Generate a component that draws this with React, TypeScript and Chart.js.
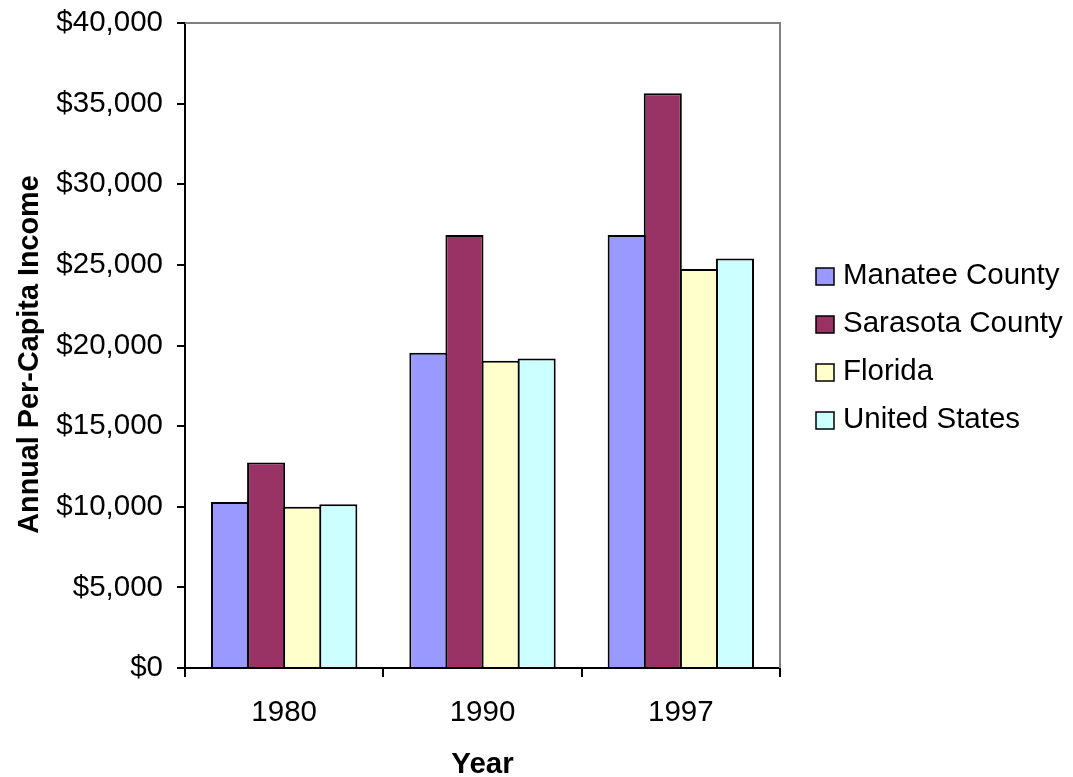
import React, { useEffect, useRef } from 'react';
import { Chart, registerables } from 'chart.js';

Chart.register(...registerables);

const years = ['1980', '1990', '1997'];
const manatee = [10300, 19550, 26850];
const sarasota = [12750, 26850, 35650];
const florida = [10000, 19050, 24750];
const unitedStates = [10150, 19200, 25400];
const seriesNames = ['Manatee County', 'Sarasota County', 'Florida', 'United States'];
const seriesColors = ['#9999FF', '#993366', '#FFFFCC', '#CCFFFF'];
const yMin = 0;
const yMax = 40000;
const yStep = 5000;
const xTitle = 'Year';
const yTitle = 'Annual Per-Capita Income';

const FONT = '"Liberation Sans", Arial, sans-serif';
const FS = 29.5;

const framePlugin = {
  id: 'frame',
  beforeDatasetsDraw(chart: any) {
    const { ctx, chartArea } = chart;
    ctx.save();
    ctx.strokeStyle = '#808080';
    ctx.lineWidth = 2;
    ctx.beginPath();
    ctx.moveTo(chartArea.left, chartArea.top);
    ctx.lineTo(chartArea.right, chartArea.top);
    ctx.lineTo(chartArea.right, chartArea.bottom);
    ctx.stroke();
    ctx.restore();
  },
};

const yTitlePlugin = {
  id: 'yTitle',
  afterDraw(chart: any) {
    const { ctx, chartArea } = chart;
    const cy = (chartArea.top + chartArea.bottom) / 2 + 9;
    ctx.save();
    ctx.translate(30, cy);
    ctx.rotate(-Math.PI / 2);
    ctx.font = `bold 28.8px ${FONT}`;
    ctx.fillStyle = '#000';
    ctx.textAlign = 'center';
    ctx.textBaseline = 'middle';
    ctx.fillText(yTitle, 0, 0);
    ctx.restore();
  },
};

const legendPlugin = {
  id: 'sideLegend',
  afterDraw(chart: any) {
    const { ctx, chartArea } = chart;
    const ds = chart.data.datasets;
    const cy = (chartArea.top + chartArea.bottom) / 2;
    const rowH = 48;
    ctx.save();
    ctx.font = `${FS}px ${FONT}`;
    ctx.textBaseline = 'alphabetic';
    ctx.textAlign = 'left';
    ds.forEach((d: any, i: number) => {
      const base = cy + (i - (ds.length - 1) / 2) * rowH + 10.5;
      const bx = chartArea.right + 36;
      const by = base - 16;
      ctx.fillStyle = d.backgroundColor;
      ctx.fillRect(bx, by, 18, 17);
      ctx.lineWidth = 1.5;
      ctx.strokeStyle = '#000';
      ctx.strokeRect(bx, by, 18, 17);
      ctx.fillStyle = '#000';
      ctx.fillText(d.label, chartArea.right + 63, base);
    });
    ctx.restore();
  },
};

export default function App() {
  const ref = useRef<HTMLCanvasElement | null>(null);

  useEffect(() => {
    document.body.style.margin = '0';
    if (!ref.current) return;
    const seriesData = [manatee, sarasota, florida, unitedStates];
    const chart = new Chart(ref.current, {
      type: 'bar',
      data: {
        labels: years,
        datasets: seriesData.map((d, i) => ({
          label: seriesNames[i],
          data: d,
          backgroundColor: seriesColors[i],
          borderColor: '#000000',
          borderWidth: 2,
          categoryPercentage: 0.728,
          barPercentage: 1.055,
        })),
      },
      options: {
        responsive: false,
        animation: false,
        layout: { padding: { top: 23, right: 293, left: 0, bottom: 0 } },
        plugins: {
          legend: { display: false },
          tooltip: { enabled: false },
        },
        scales: {
          x: {
            z: 1,
            grid: {
              offset: true,
              drawOnChartArea: false,
              drawTicks: true,
              tickLength: 9,
              color: '#000',
              lineWidth: 2,
            },
            border: { display: true, color: '#000', width: 2 },
            ticks: {
              color: '#000',
              font: { family: FONT, size: FS },
              padding: 18,
            },
            title: {
              display: true,
              text: xTitle,
              color: '#000',
              font: { family: FONT, size: FS, weight: 'bold', lineHeight: 0.8 },
              padding: { top: 0, bottom: 0 },
            },
            afterFit(scale: any) {
              scale.height = 109;
              scale.paddingLeft = 0;
              scale.paddingRight = 0;
            },
          },
          y: {
            z: 1,
            min: yMin,
            max: yMax,
            grid: {
              drawOnChartArea: false,
              drawTicks: true,
              tickLength: 8,
              color: '#000',
              lineWidth: 2,
            },
            border: { display: true, color: '#000', width: 2 },
            ticks: {
              stepSize: yStep,
              color: '#000',
              font: { family: FONT, size: FS },
              padding: 14,
              callback: (v: any) => '$' + Number(v).toLocaleString('en-US'),
            },
            title: { display: false },
            afterFit(scale: any) {
              scale.width = 185;
              scale.paddingTop = 0;
              scale.paddingBottom = 0;
            },
          },
        },
      },
      plugins: [framePlugin, yTitlePlugin, legendPlugin],
    });
    return () => chart.destroy();
  }, []);

  return (
    <div style={{ width: 1073, height: 777 }}>
      <canvas ref={ref} width={1073} height={777} style={{ display: 'block', width: 1073, height: 777 }} />
    </div>
  );
}
